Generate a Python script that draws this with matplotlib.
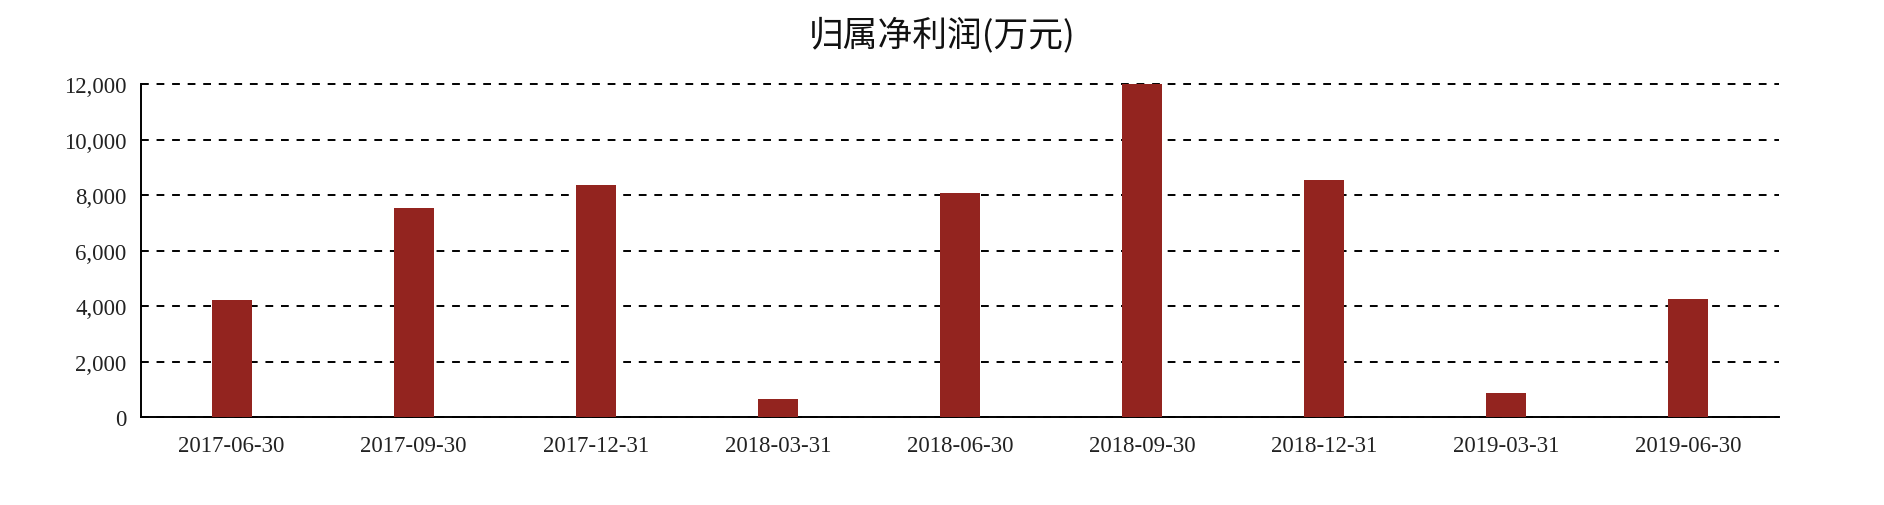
import matplotlib
matplotlib.use("Agg")
import matplotlib.pyplot as plt
from matplotlib.ticker import FuncFormatter

categories = ["2017-06-30", "2017-09-30", "2017-12-31", "2018-03-31", "2018-06-30",
              "2018-09-30", "2018-12-31", "2019-03-31", "2019-06-30"]
profit = [4240, 7530, 8360, 650, 8090, 12020, 8540, 870, 4265]
title = "归属净利润(万元)"

fig = plt.figure(figsize=(18.84, 5.06), dpi=100)
ax = fig.add_axes([0.0746, 0.1733, 0.8697, 0.6587])

x = list(range(len(categories)))
ax.bar(x, profit, width=0.22, color="#93241f", zorder=3)

ax.set_xlim(-0.5, len(categories) - 0.5)
ax.set_ylim(0, 12000)
ax.set_yticks(range(0, 12001, 2000))
ax.yaxis.set_major_formatter(FuncFormatter(lambda v, p: f"{int(v):,}"))
ax.set_xticks(x)
ax.set_xticklabels(categories)

for lbl in ax.get_xticklabels() + ax.get_yticklabels():
    lbl.set_family(["Liberation Serif", "DejaVu Serif"])
    lbl.set_fontsize(16.5)
    lbl.set_color("#222222")

ax.tick_params(axis="y", length=0, pad=10)
ax.tick_params(axis="x", length=0, pad=13)

ax.grid(axis="y", color="black", linestyle=(0, (4, 4)), linewidth=1.4, zorder=1)
ax.set_axisbelow(True)
for gl in ax.get_ygridlines():
    gl.set_clip_on(False)

for s in ["top", "right"]:
    ax.spines[s].set_visible(False)
for s in ["left", "bottom"]:
    ax.spines[s].set_linewidth(1.4)
    ax.spines[s].set_color("black")

fig.text(0.5, 0.93, title, ha="center", va="center", fontsize=25,
         family=["Noto Sans CJK SC", "DejaVu Sans"], color="#111111")

fig.savefig("out.png", dpi=100)
